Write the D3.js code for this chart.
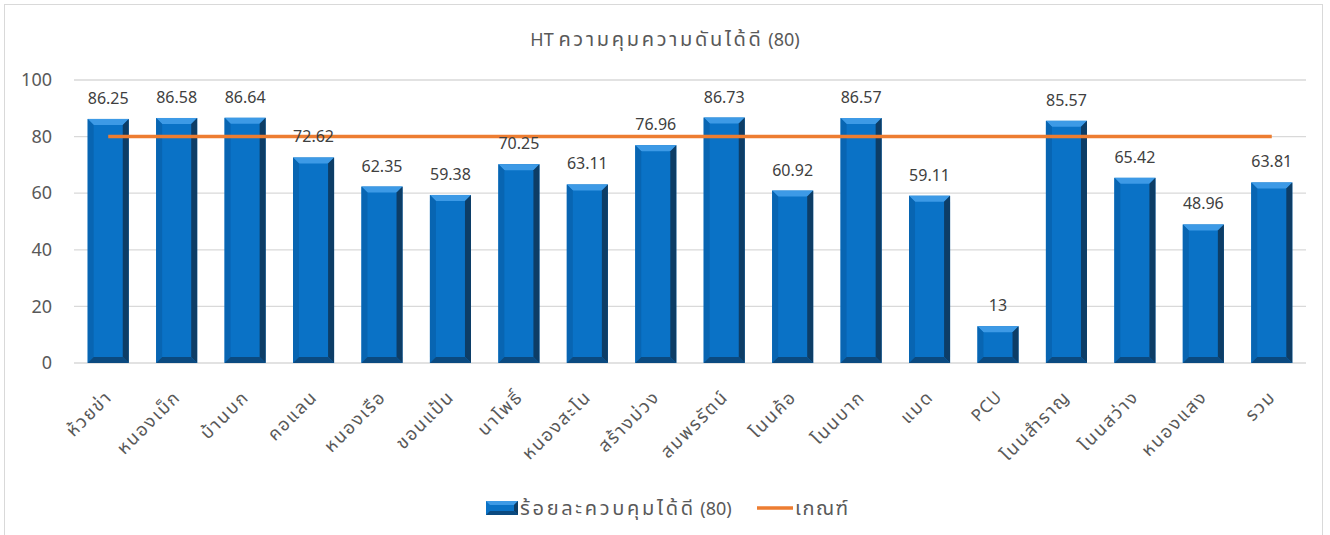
<!DOCTYPE html>
<html>
<head>
<meta charset="utf-8">
<script src="https://cdn.jsdelivr.net/npm/d3@7"></script>
<style>
  body { margin: 0; background: #fff; }
  text { font-family: "Noto Sans", "Noto Sans Thai", "DejaVu Sans", sans-serif; white-space: pre; }
</style>
</head>
<body>
<div id="chart"></div>
<script>
// data
var categories = ["ห้วยข่า", "หนองเม็ก", "บ้านบก", "คอแลน", "หนองเรือ", "ขอนแป้น", "นาโพธิ์", "หนองสะโน",
  "สร้างม่วง", "สมพรรัตน์", "โนนค้อ", "โนนบาก", "แมด", "PCU", "โนนสำราญ", "โนนสว่าง", "หนองแสง", "รวม"];
var percentValues = [86.25, 86.58, 86.64, 72.62, 62.35, 59.38, 70.25, 63.11, 76.96, 86.73, 60.92, 86.57,
  59.11, 13, 85.57, 65.42, 48.96, 63.81];
var criteriaValues = [80, 80, 80, 80, 80, 80, 80, 80, 80, 80, 80, 80, 80, 80, 80, 80, 80, 80];
var yTicks = [0, 20, 40, 60, 80, 100];
var titleText = "HT ความคุมความดันได้ดี (80)";
var seriesNames = ["ร้อยละควบคุมได้ดี (80)", "เกณฑ์"];

var svgWidth = 1330;
var svgHeight = 535;
var margin = { top: 80, right: 24, bottom: 172, left: 74 };
var chartWidth = svgWidth - margin.left - margin.right;
var chartHeight = svgHeight - margin.top - margin.bottom;

var thaiRe = /[\u0E00-\u0E7F]/;

// the Thai glyphs in the original are bigger/wider than the ones we have,
// so Thai runs get a slightly larger size and a little spacing
function fillText(sel, str, thaiSize, thaiSpacing) {
  var runs = str.match(/[\u0E00-\u0E7F]+|[^\u0E00-\u0E7F]+/g) || [];
  runs.forEach(function (r) {
    var t = sel.append("tspan").text(r);
    if (thaiRe.test(r)) {
      t.attr("font-size", thaiSize).attr("letter-spacing", thaiSpacing);
    }
  });
}

var svg = d3.select("#chart").append("svg")
  .attr("width", svgWidth)
  .attr("height", svgHeight);

// chart frame
svg.append("rect")
  .attr("x", 4.5).attr("y", 4.5)
  .attr("width", 1318).attr("height", 540)
  .attr("fill", "#fff")
  .attr("stroke", "#d9d9d9");

var title = svg.append("text")
  .attr("x", 665).attr("y", 46)
  .attr("text-anchor", "middle")
  .attr("font-size", 18)
  .attr("fill", "#595959");
fillText(title, titleText, 20, 2.7);

var chartGroup = svg.append("g")
  .attr("transform", `translate(${margin.left}, ${margin.top})`);

var xBandScale = d3.scaleBand()
  .domain(categories)
  .range([0, chartWidth])
  .paddingInner(0.4)
  .paddingOuter(0.2);

var yLinearScale = d3.scaleLinear()
  .domain([0, 100])
  .range([chartHeight, 0]);

// gridlines
chartGroup.append("g")
  .selectAll("line")
  .data(yTicks)
  .enter()
  .append("line")
  .attr("x1", 0).attr("x2", chartWidth)
  .attr("y1", d => yLinearScale(d)).attr("y2", d => yLinearScale(d))
  .attr("stroke", "#d9d9d9")
  .attr("stroke-width", 1.3);

// y axis labels
var leftAxis = d3.axisLeft(yLinearScale).tickValues(yTicks).tickSize(0).tickPadding(22);
var yAxis = chartGroup.append("g").call(leftAxis);
yAxis.select(".domain").remove();
yAxis.selectAll("text")
  .attr("font-size", 18)
  .attr("fill", "#595959")
  .attr("font-family", "'Noto Sans', sans-serif");

// x axis labels, rotated
var bottomAxis = d3.axisBottom(xBandScale).tickSize(0).tickPadding(0);
var xAxis = chartGroup.append("g")
  .attr("transform", `translate(0, ${chartHeight})`)
  .call(bottomAxis);
xAxis.select(".domain").remove();
xAxis.selectAll("text")
  .attr("font-size", d => thaiRe.test(d) ? 18 : 17)
  .attr("fill", "#595959")
  .attr("font-family", "'Noto Sans', 'Noto Sans Thai', sans-serif")
  .attr("letter-spacing", d => thaiRe.test(d) ? 1.8 : 0.5)
  .attr("text-anchor", "end")
  .attr("dy", 0)
  .attr("transform", "translate(5, 35) rotate(-45)");

// bevelled bars
var bw = xBandScale.bandwidth();
var bev = 6;
var barGroups = chartGroup.append("g")
  .selectAll("g")
  .data(percentValues)
  .enter()
  .append("g")
  .attr("transform", (d, i) => `translate(${xBandScale(categories[i])}, ${yLinearScale(d)})`);

barGroups.append("rect")
  .attr("width", bw)
  .attr("height", d => chartHeight - yLinearScale(d))
  .attr("fill", "#0a72c6");

function bevel(pts) {
  return "M" + pts.map(p => p.join(",")).join("L") + "Z";
}
// top
barGroups.append("path")
  .attr("d", d => bevel([[0, 0], [bw, 0], [bw - bev, bev], [bev, bev]]))
  .attr("fill", "#3d9ae6");
// left
barGroups.append("path")
  .attr("d", d => {
    var h = chartHeight - yLinearScale(d);
    return bevel([[0, 0], [bev, bev], [bev, h - bev], [0, h]]);
  })
  .attr("fill", "#0865b2");
// right
barGroups.append("path")
  .attr("d", d => {
    var h = chartHeight - yLinearScale(d);
    return bevel([[bw, 0], [bw, h], [bw - bev, h - bev], [bw - bev, bev]]);
  })
  .attr("fill", "#0d3d66");
// bottom
barGroups.append("path")
  .attr("d", d => {
    var h = chartHeight - yLinearScale(d);
    return bevel([[0, h], [bev, h - bev], [bw - bev, h - bev], [bw, h]]);
  })
  .attr("fill", "#0b4a80");

// criteria line
var criteriaLine = d3.line()
  .x((d, i) => xBandScale(categories[i]) + bw / 2)
  .y(d => yLinearScale(d));

chartGroup.append("path")
  .datum(criteriaValues)
  .attr("d", criteriaLine)
  .attr("fill", "none")
  .attr("stroke", "#ed7d31")
  .attr("stroke-width", 3.5);

// data labels
chartGroup.append("g")
  .selectAll("text")
  .data(percentValues)
  .enter()
  .append("text")
  .attr("x", (d, i) => xBandScale(categories[i]) + bw / 2)
  .attr("y", d => yLinearScale(d) - 15)
  .attr("text-anchor", "middle")
  .attr("font-size", 16)
  .attr("fill", "#404040")
  .text(d => d);

// legend
var legend = svg.append("g").attr("transform", "translate(486, 508)");
legend.append("rect")
  .attr("x", 0).attr("y", -7).attr("width", 32).attr("height", 14)
  .attr("fill", "#0a72c6");
legend.append("path")
  .attr("d", bevel([[0, -7], [32, -7], [28, -3], [4, -3]]))
  .attr("fill", "#3d9ae6");
legend.append("path")
  .attr("d", bevel([[32, -7], [32, 7], [28, 3], [28, -3]]))
  .attr("fill", "#0d3d66");
legend.append("path")
  .attr("d", bevel([[0, 7], [4, 3], [28, 3], [32, 7]]))
  .attr("fill", "#0b4a80");
var legendText1 = legend.append("text")
  .attr("x", 34).attr("y", 7)
  .attr("font-size", 18)
  .attr("fill", "#595959");
fillText(legendText1, seriesNames[0], 20, 2.7);
legend.append("line")
  .attr("x1", 271).attr("x2", 307)
  .attr("y1", 0).attr("y2", 0)
  .attr("stroke", "#ed7d31")
  .attr("stroke-width", 3.5);
var legendText2 = legend.append("text")
  .attr("x", 309).attr("y", 7)
  .attr("font-size", 18)
  .attr("fill", "#595959");
fillText(legendText2, seriesNames[1], 20, 1.5);
</script>
</body>
</html>
